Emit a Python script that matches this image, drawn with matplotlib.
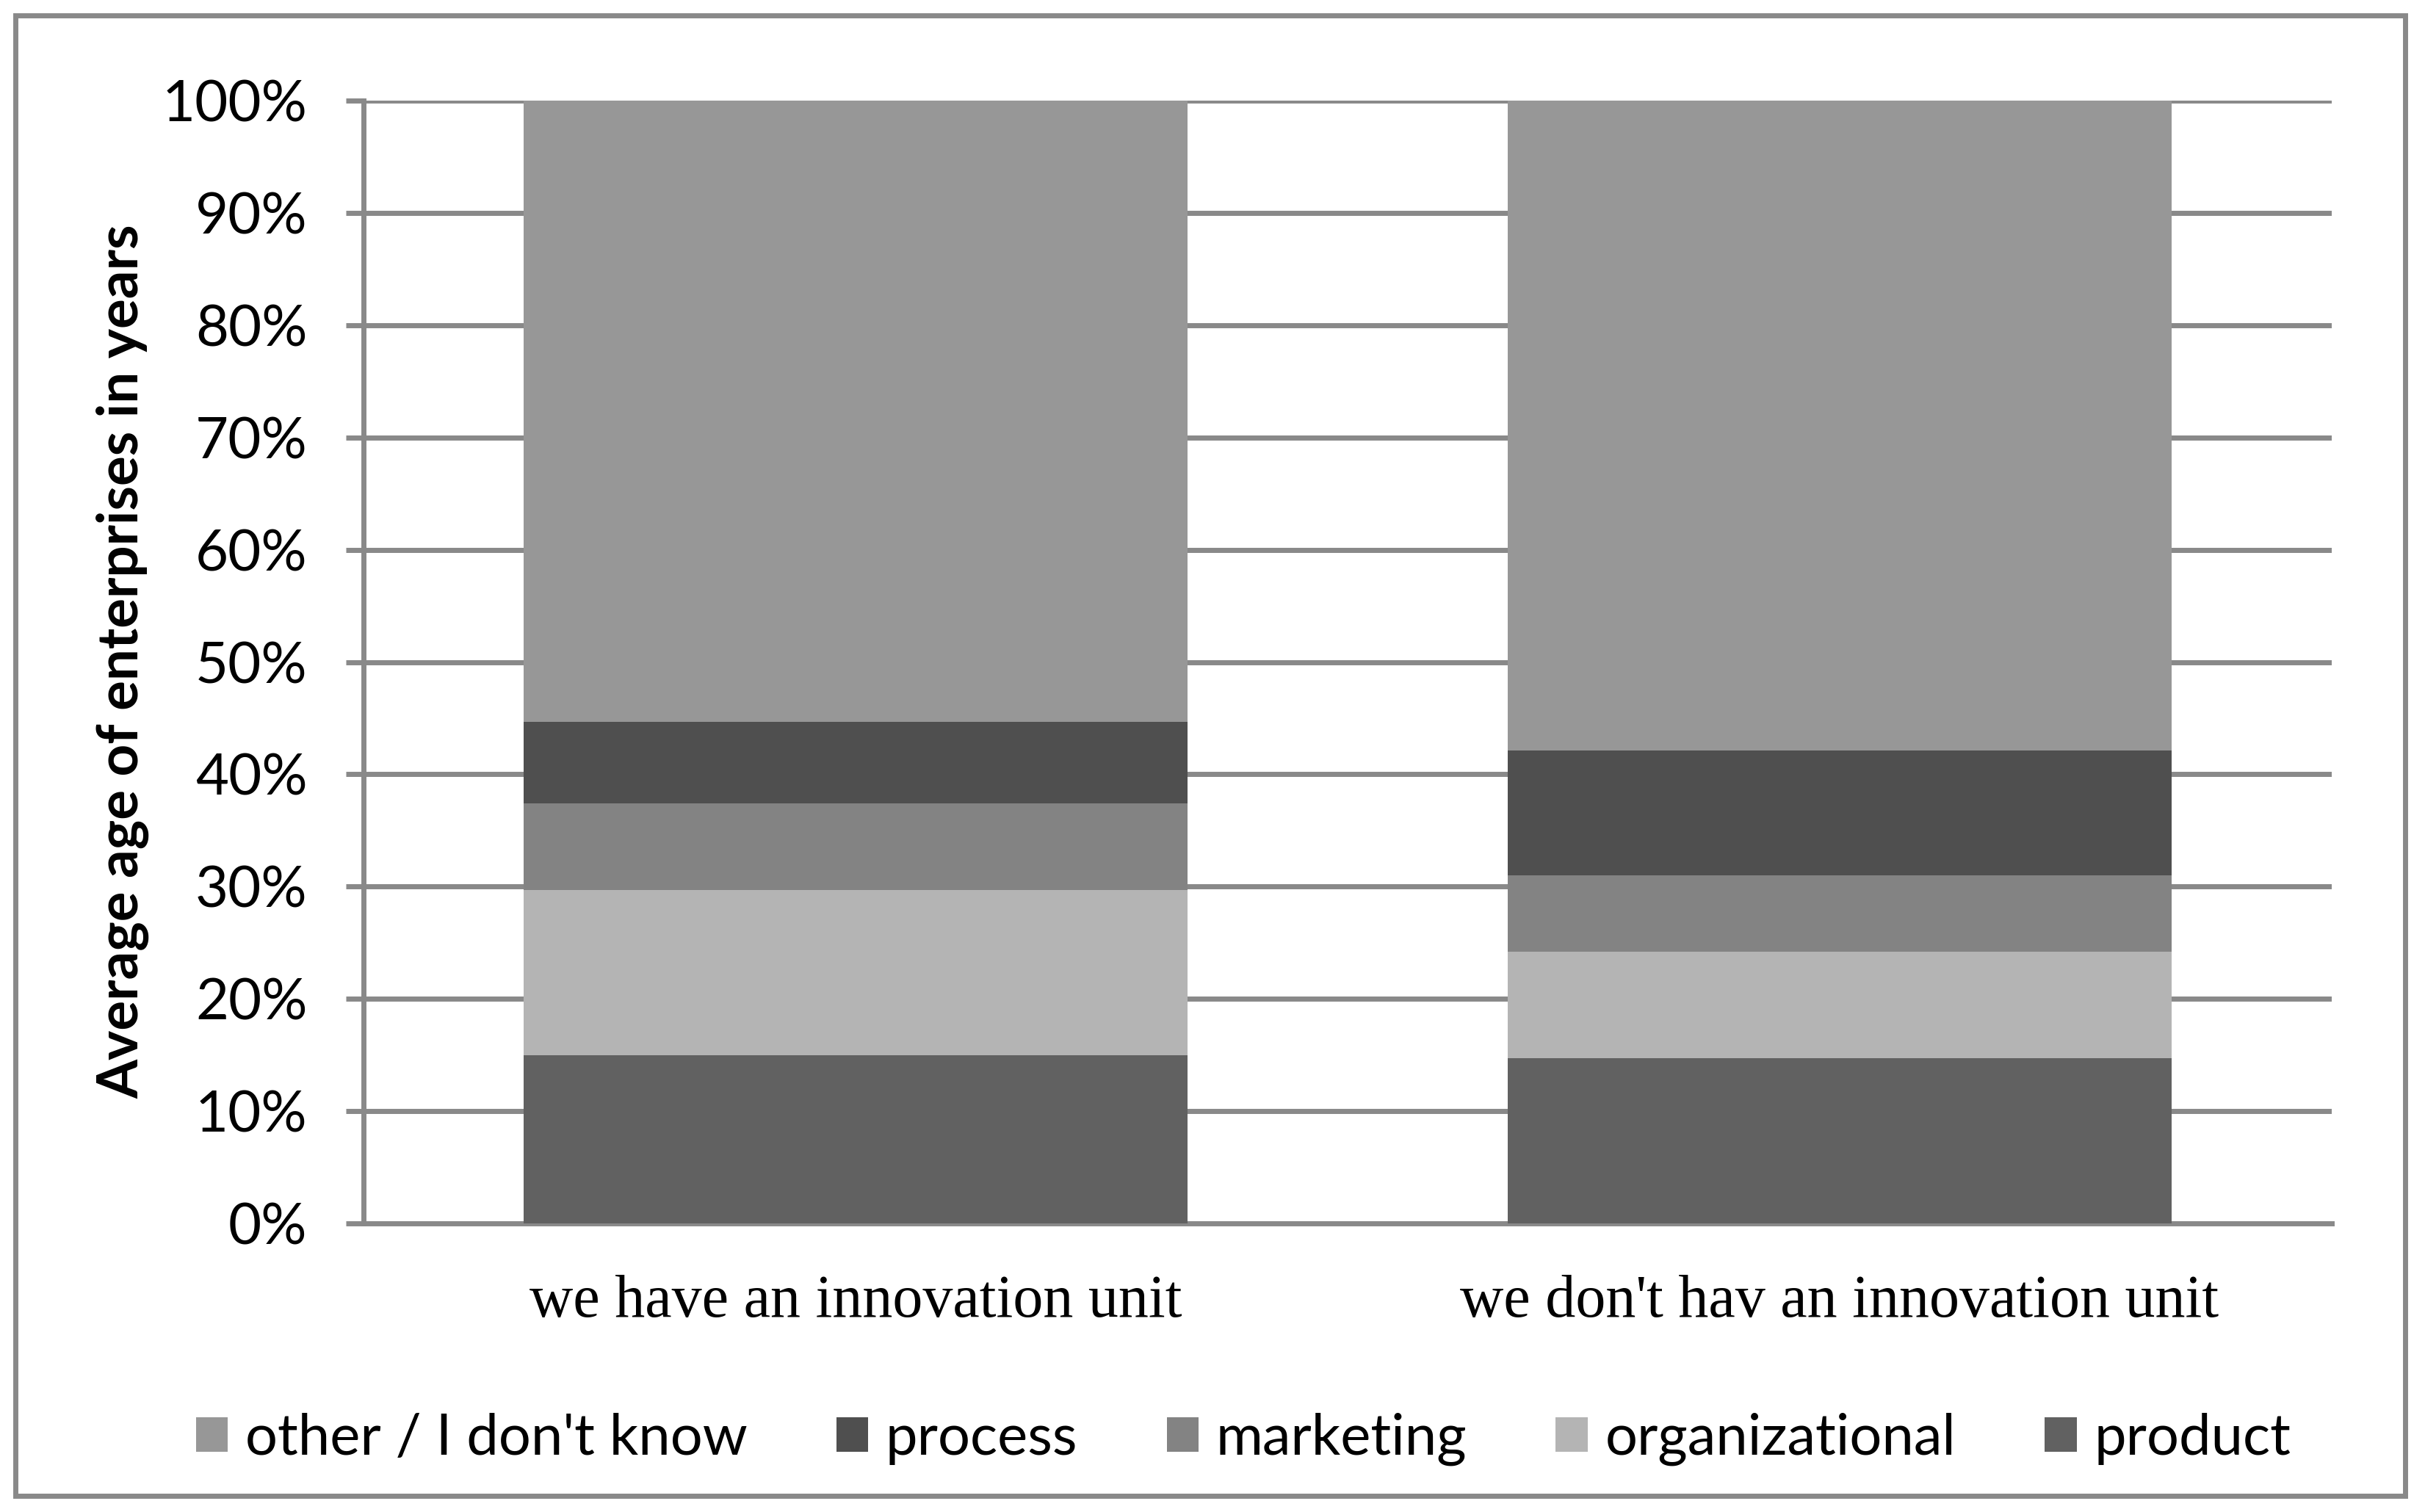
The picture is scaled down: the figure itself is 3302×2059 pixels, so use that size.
import matplotlib
matplotlib.use("Agg")
import matplotlib.pyplot as plt
from matplotlib.patches import Rectangle, Patch
import numpy as np

# data (percent shares)
categories = ["we have an innovation unit", "we don't hav an innovation unit"]
series = ["product", "organizational", "marketing", "process", "other / I don't know"]
product = [15.0, 14.7]
organizational = [14.7, 9.5]
marketing = [7.7, 6.8]
process = [7.3, 11.1]
other = [55.3, 57.9]
colors = ["#616161", "#b4b4b4", "#838383", "#4f4f4f", "#979797"]

grid_col = "#898989"
W, H = 3302, 2059
fig = plt.figure(figsize=(W / 100, H / 100), dpi=100)
ax = fig.add_axes([495 / W, 1 - 1666 / H, 2680 / W, 1529 / H])

values = [product, organizational, marketing, process, other]
x = np.arange(len(categories))
bottom = np.zeros(len(categories))
for vals, col in zip(values, colors):
    ax.bar(x, vals, width=0.674, bottom=bottom, color=col, edgecolor="none", zorder=3)
    bottom += np.array(vals)

ax.set_xlim(-0.5, 1.5)
ax.set_ylim(0, 100)
ax.set_yticks(np.arange(0, 101, 10))
ax.set_yticklabels([f"{v}%" for v in range(0, 101, 10)], fontfamily="Lato", fontsize=56)
ax.yaxis.grid(True, color=grid_col, linewidth=5, zorder=0)
ax.tick_params(axis="y", length=17, width=5, color=grid_col, pad=38)
ax.set_xticks(x)
ax.set_xticklabels(categories, fontfamily="Liberation Serif", fontsize=59)
ax.tick_params(axis="x", length=0, pad=50)
for s in ["top", "right"]:
    ax.spines[s].set_visible(False)
ax.spines["left"].set_color(grid_col)
ax.spines["left"].set_linewidth(5)
ax.spines["bottom"].set_color(grid_col)
ax.spines["bottom"].set_linewidth(5)
ax.set_axisbelow(True)

fig.text(167 / W, 1 - 901 / H, "Average age of enterprises in years", rotation=90,
         ha="center", va="center", fontfamily="Lato", fontweight="bold", fontsize=55)

# legend, in the reverse order of stacking
handles = [Patch(facecolor=c, edgecolor="none") for c in colors][::-1]
labels = series[::-1]
fig.legend(handles, labels, loc="center", bbox_to_anchor=(1693 / W, 1 - 1960 / H), ncol=5,
           frameon=False, prop={"family": "Lato", "size": 56},
           handlelength=0.56, handleheight=0.56, handletextpad=0.3, columnspacing=1.56)

# outer frame
fig.patches.append(Rectangle((21 / W, 1 - 2037 / H), 3254 / W, 2016 / H, transform=fig.transFigure,
                             fill=False, edgecolor=grid_col, linewidth=5))

fig.savefig("out.png", dpi=100, facecolor="white")
